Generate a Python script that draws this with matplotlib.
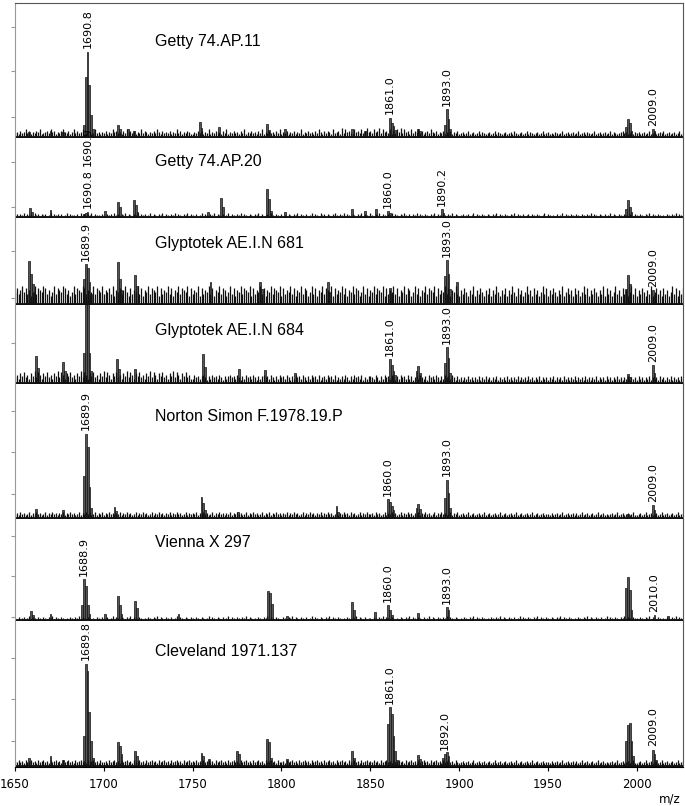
import numpy as np
import matplotlib
matplotlib.use("Agg")
import matplotlib.pyplot as plt

plt.rcParams['font.family'] = ['DejaVu Sans']

names = ["Getty 74.AP.11", "Getty 74.AP.20", "Glyptotek AE.I.N 681",
         "Glyptotek AE.I.N 684", "Norton Simon F.1978.19.P", "Vienna X 297",
         "Cleveland 1971.137"]

# isotope sticks (m/z, intensity), intensity ~ px above baseline
peaks_getty11 = [(1658, 5), (1670, 6), (1677, 5), (1688.8, 12), (1689.8, 60), (1690.8, 85),
                 (1691.8, 52), (1692.8, 22), (1693.8, 8), (1708, 12), (1709, 8), (1713.7, 8),
                 (1717, 6), (1754, 15), (1755, 9), (1765, 10), (1792, 13), (1793, 7), (1802, 8),
                 (1839.6, 8), (1847, 6), (1861, 19), (1862, 14), (1863, 11), (1864, 7),
                 (1877, 8), (1878, 6), (1892, 12), (1893, 28), (1894, 18), (1895, 8),
                 (1994, 10), (1995, 18), (1996, 14), (1997, 6), (2009, 8), (2010, 6)]
peaks_getty20 = [(1658.4, 9), (1659.4, 5), (1670, 7), (1688.8, 3), (1689.8, 4), (1690.8, 5),
                 (1700.6, 6), (1708, 15), (1709, 10), (1717, 17), (1718, 12), (1719, 5),
                 (1758.6, 5), (1766, 19), (1767, 10), (1792, 28), (1793, 18), (1794, 6), (1802, 5),
                 (1839.6, 8), (1847, 6), (1853, 8), (1860, 6), (1861, 4), (1890.2, 8), (1891.2, 4),
                 (1994, 8), (1995, 17), (1996, 10), (1997, 5)]
peaks_glyp681 = [(1658, 43), (1659, 30), (1660, 20), (1661, 12), (1688.9, 25), (1689.9, 40),
                 (1690.9, 36), (1691.9, 22), (1692.9, 10), (1708, 42), (1709, 25), (1710, 14),
                 (1717.5, 29), (1718.5, 18), (1760, 22), (1788, 22), (1789, 15), (1826, 22),
                 (1827, 12), (1861, 16), (1862, 10), (1892, 28), (1893, 44), (1894, 30),
                 (1895, 15), (1898.7, 22), (1994, 15), (1995, 29), (1996, 20), (2009, 14), (2010, 9)]
peaks_glyp684 = [(1662, 27), (1663, 15), (1677, 21), (1678, 12), (1688.9, 30), (1689.9, 95),
                 (1690.9, 90), (1691.9, 30), (1692.9, 12), (1707.6, 24), (1708.6, 14),
                 (1717.5, 14), (1756, 29), (1757, 16), (1776, 14), (1790.7, 13), (1807.6, 10),
                 (1861, 24), (1862, 18), (1863, 12), (1864, 8), (1876, 12), (1877, 17), (1878, 10),
                 (1892, 20), (1893, 36), (1894, 25), (1895, 10), (1995, 9), (1996, 6),
                 (2009, 18), (2010, 10)]
peaks_norton = [(1662, 9), (1677, 8), (1688.9, 42), (1689.9, 84), (1690.9, 71), (1691.9, 31),
                (1692.9, 10), (1706, 11), (1707, 7), (1755, 21), (1756, 15), (1757, 8),
                (1775.6, 6), (1831, 12), (1832, 6), (1860, 19), (1861, 16), (1862, 12), (1863, 8),
                (1876, 10), (1877, 14), (1878, 9), (1892, 20), (1893, 38), (1894, 25), (1895, 10),
                (1995, 4), (2009, 13), (2010, 8)]
peaks_vienna = [(1659, 9), (1660, 5), (1670, 6), (1687.9, 15), (1688.9, 41), (1689.9, 34),
                (1690.9, 15), (1691.9, 6), (1700.6, 6), (1708, 24), (1709, 15), (1710, 6),
                (1717.5, 19), (1718.5, 12), (1742, 6), (1792.5, 29), (1793.5, 27), (1794.5, 16),
                (1803, 4), (1839.6, 18), (1840.6, 10), (1852.6, 8), (1860, 15), (1861, 10),
                (1862, 5), (1877, 7), (1893, 13), (1894, 10), (1994, 32), (1995, 43), (1996, 30),
                (1997, 10), (2010, 5), (2017.5, 4)]
peaks_cleveland = [(1658, 8), (1670, 10), (1677, 6), (1688.8, 30), (1689.8, 102), (1690.8, 95),
                   (1691.8, 54), (1692.8, 25), (1693.8, 8), (1708, 24), (1709, 20), (1710, 12),
                   (1717.5, 15), (1718.5, 10), (1755, 13), (1756, 10), (1759, 7), (1775, 15),
                   (1776, 12), (1792, 27), (1793, 24), (1794, 8), (1803, 7), (1839.6, 15),
                   (1840.6, 8), (1860, 42), (1861, 59), (1862, 52), (1863, 30), (1864, 15),
                   (1865, 6), (1877, 11), (1878, 7), (1891, 8), (1892, 12), (1893, 14), (1894, 10),
                   (1994, 25), (1995, 41), (1996, 43), (1997, 25), (1998, 10), (2009, 16),
                   (2010, 12), (2011, 6)]

labels_getty11 = [(1690.8, "1690.8"), (1861.0, "1861.0"), (1893.0, "1893.0"), (2009.0, "2009.0")]
labels_getty20 = [(1690.8, "1690.8"), (1690.9, "1690.9"), (1860.0, "1860.0"), (1890.2, "1890.2")]
labels_glyp681 = [(1689.9, "1689.9"), (1893.0, "1893.0"), (2009.0, "2009.0")]
labels_glyp684 = [(1861.0, "1861.0"), (1893.0, "1893.0"), (2009.0, "2009.0")]
labels_norton = [(1689.9, "1689.9"), (1860.0, "1860.0"), (1893.0, "1893.0"), (2009.0, "2009.0")]
labels_vienna = [(1688.9, "1688.9"), (1860.0, "1860.0"), (1893.0, "1893.0"), (2010.0, "2010.0")]
labels_cleveland = [(1689.8, "1689.8"), (1861.0, "1861.0"), (1892.0, "1892.0"), (2009.0, "2009.0")]

# baseline noise, one digit per m/z unit starting at 1650
noise_getty11 = ("34253463524354623453645243564352463534623542363424"
                 "35243645342536453524363542435364253435243635243542"
                 "24353524362435342536243534253624353425362435342536"
                 "24352435243624353425364253542634527364532645363574"
                 "53645736453625364736452635463524536435243524352435"
                 "23423523423524323423524323423425323423524323423523"
                 "42324323523423423523424323523423423524323453423524"
                 "342342352342343523423423523")
noise_getty20 = ("23132413231423132312413231312413221314231324132213"
                 "21323142313241321324132312413213241321324132132413"
                 "21312413213241321312413213241321321324131231421321"
                 "31213213241321312413214231321342132413213213241321"
                 "42132413213241321324213132413213213241321321324132"
                 "12312312413213213213241321321324132131231321321241"
                 "32121312413213213213213241321321312413213213213213"
                 "213213241321321213213241321")
noise_glyp681 = ("68579685746958769857469587698574695876985746958769"
                 "57685947685796485769584769587694857695847695876948"
                 "57694857695847695874695847695876948576958476958769"
                 "48576958476958746958476958769485769584769587469584"
                 "76958769485769584769587469584769587694857695847695"
                 "47586475947586475847596475847596485746957485746958"
                 "47586475946857485746958475864759485746957485746958"
                 "475864759468574857469584758")
noise_glyp684 = ("46375846375948637584637594863758463759486375846375"
                 "94863758463759486375846375948637584637594863758463"
                 "36453564253645364253564536425364536425356453642536"
                 "45364253645364253645362453645362435364253645362435"
                 "54364253645364253645363524536435264536425364536425"
                 "34243534243524353424352434253424352434253424352434"
                 "24352434253424352434253424352434253424353424352434"
                 "253424352434253424352434253")
noise_norton = ("34253423524353423524353424352435342352435342352435"
                "24353424352435342352435342352435342435243534235243"
                "43524353423524353424352435342352435342352435243534"
                "24352435342352435342435243534235243534253423524353"
                "34253423524353423524353424352435342352435342352435"
                "23423523423423523423423523423423523423423523423423"
                "32423423523423424235234234235234232342352342342352"
                "234235234234235234234235234")
noise_vienna = ("21312312413213213213241321321213213241321321213213"
                "12312413213213241321321213213241321321312413213213"
                "21321321241321321312413213213241321213213241321321"
                "13213241321321312413213213241321321213213241321312"
                "21321324132132121321324132132131241321321324132132"
                "12132132413213212132132413213213124132132132413213"
                "21321324132132121321324132132131241321321324132132"
                "213213241321321213213241321")
noise_cleveland = ("43534253453425345342534534253453425345342534534253"
                   "34253453425345342534534253453425345342534534253453"
                   "43534253453425345342534534253453425345342534534253"
                   "34253453425345342534534253453425345342534534253453"
                   "43534253453425345342534534253453425345342534534253"
                   "23423423523423423423523423423423523423423523423423"
                   "32423423523423424235234234235234232342352342342352"
                   "234235234234235234234235234")

all_peaks = [peaks_getty11, peaks_getty20, peaks_glyp681, peaks_glyp684,
             peaks_norton, peaks_vienna, peaks_cleveland]
all_labels = [labels_getty11, labels_getty20, labels_glyp681, labels_glyp684,
              labels_norton, labels_vienna, labels_cleveland]
all_noise = [noise_getty11, noise_getty20, noise_glyp681, noise_glyp684,
             noise_norton, noise_vienna, noise_cleveland]
noise_gain = [1.2, 1.0, 1.9, 1.3, 1.2, 1.0, 1.2]

yticks = [[20, 66, 110], [10, 55], [6, 53], [40], [24, 66, 107], [3, 44, 84], [25, 67, 108]]
xticks = [1650, 1700, 1750, 1800, 1850, 1900, 1950, 2000]

# layout in pixels
W, H = 685, 806
panel_px = [135, 80, 87, 79, 135, 102, 146]
title_y = [95, 55, 60, 52, 101, 77, 114]
x0, x1 = 15, 683
xmin, xmax = 1650, 2026

fig = plt.figure(figsize=(W / 100, H / 100), dpi=100)
top = 3
for i in range(7):
    h = panel_px[i]
    ax = fig.add_axes([x0 / W, 1 - (top + h) / H, (x1 - x0) / W, h / H])
    top += h
    ax.set_facecolor('none')

    s = all_noise[i]
    n = np.array([int(c) for c in s], dtype=float) * noise_gain[i]
    mz = xmin + np.arange(len(n))
    ax.vlines(mz, 0, n, color='#111111', lw=0.9)

    pm = np.array([p[0] for p in all_peaks[i]])
    ph = np.array([p[1] for p in all_peaks[i]])
    ax.bar(pm, ph, width=1.0, color='#555555', edgecolor='#111111', linewidth=0.5)
    ax.axhline(0, color='#111111', lw=2.0)

    prev = None
    for lx, txt in all_labels[i]:
        near = ph[np.abs(pm - lx) < 0.6]
        y = (near.max() if len(near) else 0) + 3
        if prev is not None and abs(prev[0] - lx) < 1:
            y = prev[1] + 43
        ax.text(lx, y, txt, rotation=90, ha='center', va='bottom', fontsize=8,
                clip_on=False, zorder=5)
        prev = (lx, y)

    ax.text(1729, title_y[i], names[i], ha='left', va='center', fontsize=11.5,
            family='Liberation Sans')

    ax.set_xlim(xmin, xmax)
    ax.set_ylim(-1.5, h - 1.5)
    ax.set_yticks(yticks[i])
    ax.tick_params(axis='y', length=3, color='#999999', labelleft=False)
    ax.spines['left'].set_color('#999999')
    ax.spines['right'].set_color('#555555')
    ax.spines['top'].set_color('#555555')
    ax.spines['top'].set_visible(i == 0)
    ax.spines['bottom'].set_visible(i == 6)
    if i == 6:
        ax.set_xticks(xticks)
        ax.tick_params(axis='x', length=3, labelsize=8.5, pad=5)
    else:
        ax.set_xticks([])

fig.text(670 / W, 1 - 799 / H, "m/z", ha='center', va='center', fontsize=8.5)

fig.savefig('out.png', dpi=100)
